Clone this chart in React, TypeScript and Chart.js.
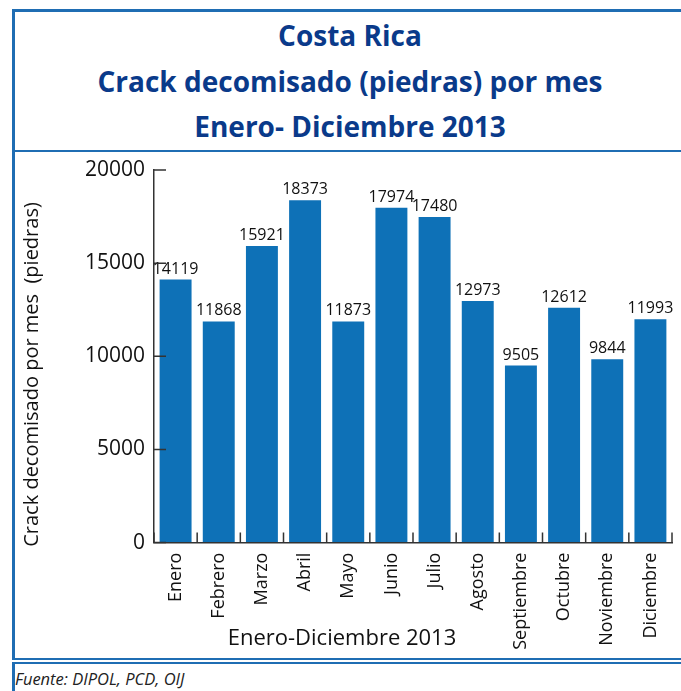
import React, { useEffect, useRef } from "react";
import { Chart, registerables } from "chart.js";

Chart.register(...registerables);

const months = [
  "Enero", "Febrero", "Marzo", "Abril", "Mayo", "Junio",
  "Julio", "Agosto", "Septiembre", "Octubre", "Noviembre", "Diciembre",
];
const seizures = [14119, 11868, 15921, 18373, 11873, 17974, 17480, 12973, 9505, 12612, 9844, 11993];
const yTicks = [0, 5000, 10000, 15000, 20000];

const titleLines = ["Costa Rica", "Crack decomisado (piedras) por mes", "Enero- Diciembre 2013"];
const xTitle = "Enero-Diciembre 2013";
const yTitle = "Crack decomisado por mes  (piedras)";
const sourceText = "Fuente: DIPOL, PCD, OIJ";

const FONT = "'Open Sans', 'Noto Sans', sans-serif";
const BAR = "#0e71b7";
const FRAME = "#1f6db3";
const TITLE = "#0a3a8a";

const valueLabels = {
  id: "valueLabels",
  afterDatasetsDraw(chart: any) {
    const ctx = chart.ctx;
    const meta = chart.getDatasetMeta(0);
    ctx.save();
    ctx.font = `16px ${FONT}`;
    ctx.fillStyle = "#111";
    ctx.textAlign = "center";
    ctx.textBaseline = "alphabetic";
    meta.data.forEach((bar: any, i: number) => {
      ctx.fillText(String(seizures[i]), bar.x, bar.y - 6);
    });
    ctx.restore();
  },
};

const innerTicks = {
  id: "innerTicks",
  afterDraw(chart: any) {
    const ctx = chart.ctx;
    const xs = chart.scales.x;
    const ys = chart.scales.y;
    ctx.save();
    ctx.strokeStyle = "#333";
    ctx.lineWidth = 1.5;
    ctx.beginPath();
    yTicks.forEach((v) => {
      const y = ys.getPixelForValue(v);
      ctx.moveTo(xs.left, y);
      ctx.lineTo(xs.left + 12, y);
    });
    const n = months.length;
    for (let i = 0; i <= n; i++) {
      let x;
      if (i === 0) x = xs.left;
      else if (i === n) x = xs.right;
      else x = (xs.getPixelForValue(i - 1) + xs.getPixelForValue(i)) / 2;
      ctx.moveTo(x, ys.bottom);
      ctx.lineTo(x, ys.bottom - 10);
    }
    ctx.stroke();
    ctx.restore();
  },
};

export default function App() {
  const canvasRef = useRef<HTMLCanvasElement | null>(null);

  useEffect(() => {
    if (!canvasRef.current) return;
    Chart.defaults.font.family = FONT;
    const chart = new Chart(canvasRef.current, {
      type: "bar",
      data: {
        labels: months,
        datasets: [
          {
            data: seizures,
            backgroundColor: BAR,
            borderWidth: 0,
            barPercentage: 0.74,
            categoryPercentage: 1,
          },
        ],
      },
      options: {
        animation: false,
        responsive: false,
        devicePixelRatio: 1,
        layout: { padding: { left: 0, right: 9, top: 16, bottom: 0 } },
        plugins: {
          legend: { display: false },
          tooltip: { enabled: false },
          title: {
            display: true,
            position: "bottom",
            text: xTitle,
            color: "#111",
            font: { size: 22, weight: "normal", family: FONT },
            padding: { top: -27, bottom: 6 },
          },
        },
        scales: {
          x: {
            grid: { display: true, drawOnChartArea: false, drawTicks: false },
            border: { display: true, color: "#333", width: 1.5 },
            ticks: {
              color: "#111",
              font: { size: 18 },
              minRotation: 90,
              maxRotation: 90,
              autoSkip: false,
              padding: 10,
            },
            afterFit: (s: any) => {
              s.height = 110;
              s.paddingLeft = 0;
              s.paddingRight = 0;
            },
          },
          y: {
            min: 0,
            max: 20000,
            grid: { display: true, drawOnChartArea: false, drawTicks: false },
            border: { display: true, color: "#333", width: 1.5 },
            ticks: {
              stepSize: 5000,
              color: "#111",
              font: { size: 21 },
              padding: 9,
              callback: (v: any) => String(v),
            },
            title: {
              display: true,
              text: yTitle + "\u00a0".repeat(7),
              color: "#111",
              font: { size: 20, weight: "normal" },
              padding: { top: 8, bottom: 0 },
            },
            afterFit: (s: any) => {
              s.width = 142;
              s.paddingTop = 0;
              s.paddingBottom = 0;
            },
          },
        },
      },
      plugins: [valueLabels, innerTicks],
    });
    return () => chart.destroy();
  }, []);

  return (
    <div
      style={{
        position: "absolute",
        left: 0,
        top: 0,
        width: 681,
        height: 691,
        overflow: "hidden",
        background: "#fff",
        fontFamily: FONT,
      }}
    >
      <div
        style={{
          position: "absolute",
          left: 12,
          top: 9,
          width: 720,
          height: 651,
          boxSizing: "border-box",
          borderLeft: `3px solid ${FRAME}`,
          borderTop: `3px solid ${FRAME}`,
          borderBottom: `2px solid ${FRAME}`,
        }}
      />
      <div
        style={{
          position: "absolute",
          left: 12,
          top: 150,
          width: 720,
          height: 2,
          background: FRAME,
        }}
      />
      {titleLines.map((t, i) => (
        <div
          key={i}
          style={{
            position: "absolute",
            left: 12,
            width: 676,
            top: 15 + i * 45.5,
            height: 40,
            lineHeight: "40px",
            textAlign: "center",
            color: TITLE,
            fontWeight: 700,
            fontSize: 28,
            whiteSpace: "nowrap",
          }}
        >
          {t}
        </div>
      ))}
      <canvas
        ref={canvasRef}
        width={669}
        height={504}
        style={{ position: "absolute", left: 12, top: 154, width: 669, height: 504 }}
      />
      <div
        style={{
          position: "absolute",
          left: 12,
          top: 662,
          width: 720,
          height: 40,
          boxSizing: "border-box",
          borderLeft: `3px solid ${FRAME}`,
          borderTop: `2px solid ${FRAME}`,
        }}
      />
      <div
        style={{
          position: "absolute",
          left: 15,
          top: 669,
          fontSize: 16.5,
          fontStyle: "italic",
          color: "#222",
          whiteSpace: "nowrap",
          lineHeight: "20px",
        }}
      >
        {sourceText}
      </div>
    </div>
  );
}
